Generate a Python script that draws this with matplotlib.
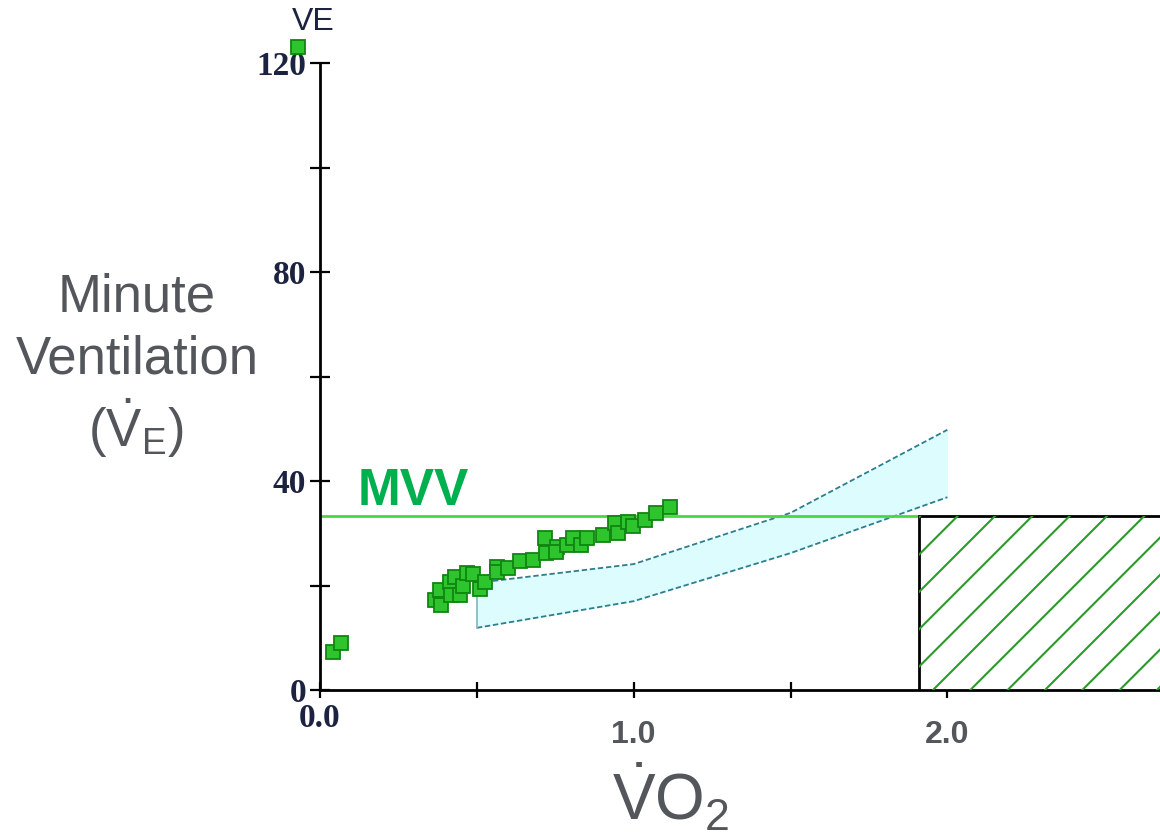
import numpy as np
import matplotlib
matplotlib.use("Agg")
import matplotlib.pyplot as plt
from matplotlib.patches import Rectangle

plt.rcParams['font.family'] = ['Liberation Sans', 'DejaVu Sans']
plt.rcParams['mathtext.fontset'] = 'custom'
plt.rcParams['mathtext.rm'] = 'Liberation Sans'
plt.rcParams['mathtext.it'] = 'Liberation Sans'
plt.rcParams['mathtext.bf'] = 'Liberation Sans:bold'

# measured ventilation vs oxygen uptake (L/min)
vo2 = [0.040, 0.066, 0.366, 0.387, 0.382, 0.414, 0.430, 0.419, 0.446, 0.456,
       0.470, 0.488, 0.510, 0.525, 0.563, 0.563, 0.600, 0.637, 0.680, 0.720,
       0.717, 0.754, 0.752, 0.786, 0.807, 0.833, 0.850, 0.902, 0.940, 0.950,
       0.982, 0.998, 1.035, 1.072, 1.115]
ve = [7.3, 8.9, 17.2, 16.3, 19.1, 20.7, 21.7, 18.2, 18.2, 19.9,
      22.3, 22.2, 19.3, 20.7, 23.6, 22.6, 23.3, 24.6, 24.9, 26.2,
      29.0, 27.4, 26.5, 27.8, 29.0, 27.8, 29.0, 29.7, 31.9, 30.0,
      32.2, 31.3, 32.5, 33.9, 35.0]

# normal response band
band_vo2 = [0.5, 1.0, 1.5, 2.0]
band_upper = [20.5, 24.1, 33.9, 49.8]
band_lower = [11.9, 17.0, 26.2, 36.9]

mvv = 33.3            # maximal voluntary ventilation
vo2max_start = 1.91   # start of predicted max region

xticks = [0.0, 0.5, 1.0, 1.5, 2.0]
yticks = [0, 20, 40, 60, 80, 100, 120]
ytick_labels = ['0', '', '40', '', '80', '', '120']
xlabels_bold = ['1.0', '2.0']

GRAY = '#53575b'
NAVY = '#1b2340'

fig = plt.figure(figsize=(11.6, 8.36), dpi=100)
ax = fig.add_axes([320 / 1160, 146 / 836, 840 / 1160, 627 / 836])
ax.set_xlim(0, 840 / 313.7)
ax.set_ylim(0, 120)

for s in ['top', 'right']:
    ax.spines[s].set_visible(False)
for s in ['left', 'bottom']:
    ax.spines[s].set_linewidth(2)
    ax.spines[s].set_color('black')

ax.set_xticks(xticks)
ax.set_xticklabels([])
ax.set_yticks(yticks)
ax.set_yticklabels(ytick_labels, fontfamily='Liberation Serif',
                   fontweight='bold', fontsize=24, color=NAVY)
ax.tick_params(axis='both', direction='inout', width=1.6, color='black')
ax.tick_params(axis='y', length=14, pad=3)
ax.tick_params(axis='x', length=12)

# x labels: "0.0" in the axis font, others bold sans
ax.text(0.0, -0.046, '0.0', transform=ax.get_xaxis_transform(),
        ha='center', va='center', fontfamily='Liberation Serif',
        fontweight='bold', fontsize=24, color=NAVY)
for lab in xlabels_bold:
    ax.text(float(lab), -0.072, lab, transform=ax.get_xaxis_transform(),
            ha='center', va='center', fontweight='bold', fontsize=23,
            color=GRAY)

# normal band
ax.fill_between(band_vo2, band_lower, band_upper, color='#dcfcfd',
                lw=0, zorder=1)
ax.plot(band_vo2, band_upper, color='#2b7f8e', lw=1.3,
        ls=(0, (3, 1.5)), zorder=2)
ax.plot(band_vo2, band_lower, color='#2b7f8e', lw=1.3,
        ls=(0, (3, 1.5)), zorder=2)
ax.plot([band_vo2[0], band_vo2[0]], [band_lower[0], band_upper[0]],
        color='#8fb9c0', lw=1.3, zorder=2)

# MVV line and label
ax.hlines(mvv, 0, vo2max_start, color='#48d840', lw=2, zorder=2)
ax.text(0.12, 35.4, 'MVV', color='#00b04f', fontsize=37,
        fontweight='bold', ha='left', va='baseline')

# predicted max region
xmax = ax.get_xlim()[1]
rect = Rectangle((vo2max_start, 0), xmax + 1 - vo2max_start, mvv,
                 facecolor='white', edgecolor='black', lw=2, zorder=3)
ax.add_patch(rect)
slope = 1.0 * 313.7 / 5.225
for x0 in np.arange(1.954 - 5 * 0.119, xmax + 0.2, 0.119):
    ln, = ax.plot([x0, x0 + mvv / slope], [0, mvv], color='#2a9a2a',
                  lw=1.5, zorder=3.5)
    ln.set_clip_path(rect)

# data points
ax.plot(vo2, ve, ls='none', marker='s', markersize=9.5,
        markerfacecolor='#2ec42e', markeredgecolor='#108510',
        markeredgewidth=1.3, zorder=4)

# series key at top of axis
ax.plot([-0.026], [1.0255], transform=ax.transAxes, marker='s',
        markersize=9.5, markerfacecolor='#2ec42e',
        markeredgecolor='#108510', markeredgewidth=1.3, clip_on=False)
ax.text(-0.008, 1.066, 'VE', transform=ax.transAxes, ha='center',
        va='center', fontsize=23, color=NAVY)

# axis titles
fig.text(137 / 1160, 1 - 298 / 836, 'Minute', ha='center', va='center',
         fontsize=38, color=GRAY)
fig.text(137 / 1160, 1 - 360 / 836, 'Ventilation', ha='center',
         va='center', fontsize=38, color=GRAY)
fig.text(136 / 1160, 1 - 428 / 836, r'($\dot{V}_E$)', ha='center',
         va='center', fontsize=38, color=GRAY)
fig.text(670 / 1160, 1 - 798 / 836, r'$\dot{V}O_2$', ha='center',
         va='center', fontsize=46, color=GRAY)

fig.savefig('out.png', dpi=100)
